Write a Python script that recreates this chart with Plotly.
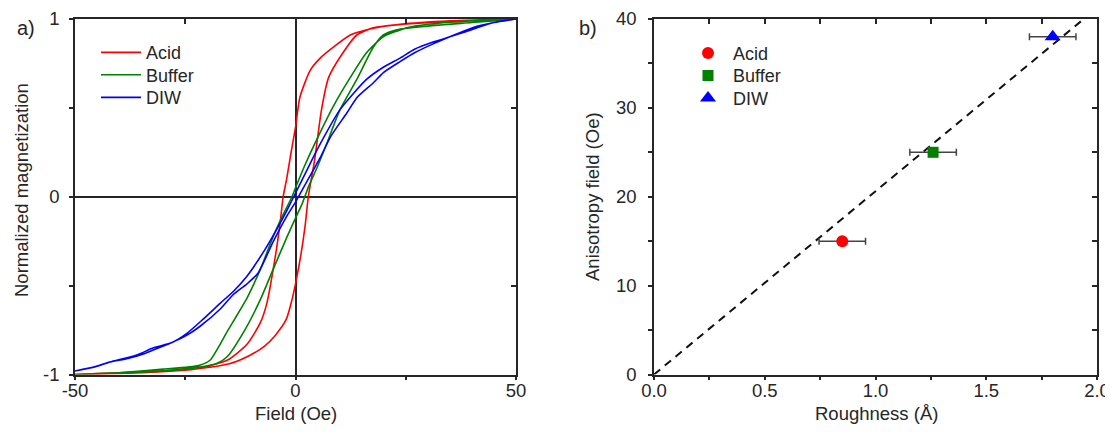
import plotly.graph_objects as go

# ---------------- Panel a) hysteresis loops ----------------
# lower (ascending) branch, then upper (descending) branch
acid_lower_h = [-50, -40, -30.7, -23, -15, -10.2, -7, -4.6, -2.1, -0.9, 0.0, 1.2, 2.2, 2.9, 4.3, 5.9, 7.5, 10.5, 13.9, 17.6, 24, 31, 40, 50]
acid_lower_m = [-1.0, -0.99, -0.98, -0.97, -0.94, -0.89, -0.84, -0.78, -0.69, -0.59, -0.49, -0.33, -0.16, 0.0, 0.20, 0.49, 0.67, 0.80, 0.91, 0.95, 0.97, 0.98, 0.99, 1.0]
acid_upper_h = [50, 35, 23.7, 16.2, 12.4, 8.5, 5.6, 3.3, 1.0, 0.0, -1.0, -2.0, -2.8, -3.5, -4.6, -6.5, -8.0, -11, -15.5, -23, -35, -50]
acid_upper_m = [1.0, 0.99, 0.97, 0.94, 0.91, 0.84, 0.78, 0.71, 0.56, 0.39, 0.25, 0.10, 0.0, -0.15, -0.34, -0.60, -0.71, -0.83, -0.92, -0.97, -0.99, -1.0]

buffer_lower_h = [-50, -40, -30, -22, -18, -15.5, -11.5, -8, -5.1, -2, 0, 1.5, 3, 5, 7.1, 10.1, 13.9, 17.6, 19.9, 23, 30, 40, 50]
buffer_lower_m = [-1.0, -0.99, -0.98, -0.96, -0.94, -0.90, -0.75, -0.58, -0.41, -0.23, -0.12, -0.04, 0.06, 0.17, 0.30, 0.49, 0.66, 0.84, 0.91, 0.94, 0.96, 0.98, 1.0]
buffer_upper_h = [50, 40, 30, 25.2, 19.9, 16.1, 12.4, 8.6, 4.4, 2, 0, -0.8, -3, -5, -8, -11, -15.3, -19.4, -22, -30, -40, -50]
buffer_upper_m = [1.0, 0.99, 0.97, 0.95, 0.90, 0.81, 0.67, 0.51, 0.30, 0.17, 0.05, 0.0, -0.11, -0.22, -0.41, -0.57, -0.75, -0.92, -0.95, -0.97, -0.99, -1.0]

diw_lower_h = [-50, -46, -42, -38, -34, -31, -28, -24.7, -21.7, -17, -14.1, -11, -8.5, -5, -2, 0, 2, 5.6, 8, 11.6, 14, 17.6, 20, 23.7, 27, 31.2, 35, 40, 45, 50]
diw_lower_m = [-0.98, -0.96, -0.93, -0.91, -0.88, -0.85, -0.82, -0.78, -0.73, -0.63, -0.55, -0.49, -0.43, -0.25, -0.11, -0.03, 0.06, 0.22, 0.34, 0.47, 0.56, 0.64, 0.70, 0.76, 0.81, 0.86, 0.90, 0.95, 0.98, 1.0]
diw_upper_h = [50, 45, 38.8, 35, 31.2, 27, 23.7, 20, 16.1, 10.1, 4.8, 2, 0, -2, -3.5, -7, -11.1, -14, -17.1, -21, -24.7, -28, -32.2, -36, -42.1, -46, -50]
diw_upper_m = [1.0, 0.98, 0.93, 0.90, 0.87, 0.83, 0.78, 0.73, 0.66, 0.49, 0.26, 0.12, 0.02, -0.08, -0.15, -0.30, -0.45, -0.53, -0.60, -0.69, -0.77, -0.82, -0.85, -0.89, -0.93, -0.96, -0.98]

# ---------------- Panel b) anisotropy vs roughness ----------------
samples = ["Acid", "Buffer", "DIW"]
roughness = [0.85, 1.26, 1.80]
roughness_err = [0.105, 0.105, 0.105]
aniso_field = [15, 25, 38]
fit_x = [0.0, 1.94]
fit_y = [0.0, 40.0]

field_ticks = [-50, -25, 0, 25, 50]
field_labels = ["-50", "", "0", "", "50"]
mag_ticks = [-1, -0.5, 0, 0.5, 1]
mag_labels = ["-1", "", "0", "", "1"]
rough_ticks = [0, 0.25, 0.5, 0.75, 1.0, 1.25, 1.5, 1.75, 2.0]
rough_labels = ["0.0", "", "0.5", "", "1.0", "", "1.5", "", "2.0"]
aniso_ticks = [0, 5, 10, 15, 20, 25, 30, 35, 40]
aniso_labels = ["0", "", "10", "", "20", "", "30", "", "40"]

colors = {"Acid": "#ff0000", "Buffer": "#008000", "DIW": "#0000ff"}
symbols = {"Acid": "circle", "Buffer": "square", "DIW": "triangle-up"}
msizes = {"Acid": 12, "Buffer": 11, "DIW": 14}

FONT = "Liberation Sans, Arial, sans-serif"
TXT = "#262626"
AX = "#262626"

# page body has an 8px margin: work in screen pixels and convert
W, H = 1105, 428
OFF = 8


def px(x):
    return (x - OFF) / W


def py(y):
    return 1 - (y - OFF) / H


fig = go.Figure()

loops = {
    "Acid": (acid_lower_h + acid_upper_h, acid_lower_m + acid_upper_m),
    "Buffer": (buffer_lower_h + buffer_upper_h, buffer_lower_m + buffer_upper_m),
    "DIW": (diw_lower_h + diw_upper_h, diw_lower_m + diw_upper_m),
}
left_legends = {"Acid": "legend", "Buffer": "legend3", "DIW": "legend4"}
right_legends = {"Acid": "legend2", "Buffer": "legend5", "DIW": "legend6"}

for name, (hx, my) in loops.items():
    fig.add_trace(go.Scatter(
        x=hx, y=my, mode="lines", name=name,
        line=dict(color=colors[name], width=1.6, shape="spline", smoothing=0.6),
        xaxis="x", yaxis="y", legend=left_legends[name], cliponaxis=True,
    ))

fig.add_trace(go.Scatter(
    x=fit_x, y=fit_y, mode="lines", showlegend=False,
    line=dict(color="#111111", width=2, dash="8px,6px"),
    xaxis="x2", yaxis="y2",
))
for i, name in enumerate(samples):
    fig.add_trace(go.Scatter(
        x=[roughness[i]], y=[aniso_field[i]], mode="markers", name=name,
        marker=dict(color=colors[name], symbol=symbols[name], size=msizes[name]),
        error_x=dict(type="data", array=[roughness_err[i]], color="#444444", thickness=1.5, width=3.5),
        xaxis="x2", yaxis="y2", legend=right_legends[name], cliponaxis=False,
    ))

# dummy traces to create mirror axes with inside ticks
fig.add_trace(go.Scatter(x=[None], y=[None], xaxis="x3", yaxis="y3", showlegend=False, hoverinfo="skip"))
fig.add_trace(go.Scatter(x=[None], y=[None], xaxis="x4", yaxis="y4", showlegend=False, hoverinfo="skip"))

dom_a = [px(75), px(516)]
dom_b = [px(654), px(1097)]
dom_y = [py(374.5), py(19)]

tickfont = dict(family=FONT, size=18.5, color=TXT)
common = dict(showgrid=False, showline=True, linecolor=AX, linewidth=1.5, mirror=True,
              ticks="outside", ticklen=4, tickwidth=1.5, tickcolor=AX, tickfont=tickfont,
              automargin=False)
inner = dict(showgrid=False, showline=False, zeroline=False, ticks="inside", ticklen=5,
             tickwidth=1.5, tickcolor=AX, showticklabels=False, automargin=False)

leg_common = dict(xanchor="left", yanchor="middle", bgcolor="rgba(0,0,0,0)",
                  font=dict(family=FONT, size=18, color=TXT), itemwidth=40,
                  borderwidth=0)

fig.update_layout(
    width=W, height=H,
    margin=dict(l=0, r=0, t=0, b=0),
    paper_bgcolor="white", plot_bgcolor="white",
    font=dict(family=FONT, size=18, color=TXT),
    xaxis=dict(domain=dom_a, anchor="y", range=[-50, 50],
               tickvals=field_ticks, ticktext=field_labels,
               zeroline=True, zerolinecolor=AX, zerolinewidth=1.5, **common),
    yaxis=dict(domain=dom_y, anchor="x", range=[-1, 1],
               tickvals=mag_ticks, ticktext=mag_labels,
               zeroline=True, zerolinecolor=AX, zerolinewidth=1.5, ticklabelstandoff=6, **common),
    xaxis2=dict(domain=dom_b, anchor="y2", range=[0, 2],
                tickvals=rough_ticks, ticktext=rough_labels,
                zeroline=False, **common),
    yaxis2=dict(domain=dom_y, anchor="x2", range=[0, 40],
                tickvals=aniso_ticks, ticktext=aniso_labels,
                zeroline=False, ticklabelstandoff=8, **common),
    xaxis3=dict(overlaying="x", side="top", anchor="y3", range=[-50, 50],
                tickvals=field_ticks, **inner),
    yaxis3=dict(overlaying="y", side="right", anchor="x3", range=[-1, 1],
                tickvals=mag_ticks, **inner),
    xaxis4=dict(overlaying="x2", side="top", anchor="y4", range=[0, 2],
                tickvals=rough_ticks, **inner),
    yaxis4=dict(overlaying="y2", side="right", anchor="x4", range=[0, 40],
                tickvals=aniso_ticks, **inner),
    legend=dict(x=px(96), y=py(52.7), **leg_common),
    legend3=dict(x=px(96), y=py(75.0), **leg_common),
    legend4=dict(x=px(96), y=py(97.7), **leg_common),
    legend2=dict(x=px(683), y=py(53.3), **leg_common),
    legend5=dict(x=px(683), y=py(75.7), **leg_common),
    legend6=dict(x=px(683), y=py(98.3), **leg_common),
    showlegend=True,
    annotations=[
        dict(text="a)", x=px(15), y=py(28), xref="paper", yref="paper",
             xanchor="left", yanchor="middle", showarrow=False, font=dict(size=20, color=TXT)),
        dict(text="b)", x=px(577), y=py(28), xref="paper", yref="paper",
             xanchor="left", yanchor="middle", showarrow=False, font=dict(size=20, color=TXT)),
        dict(text="Normalized magnetization", x=px(21), y=py(190), xref="paper", yref="paper",
             xanchor="center", yanchor="middle", textangle=-90, showarrow=False, font=dict(size=18.5, color=TXT)),
        dict(text="Field (Oe)", x=px(296), y=py(413), xref="paper", yref="paper",
             xanchor="center", yanchor="middle", showarrow=False, font=dict(size=18.5, color=TXT)),
        dict(text="Anisotropy field (Oe)", x=px(592), y=py(197), xref="paper", yref="paper",
             xanchor="center", yanchor="middle", textangle=-90, showarrow=False, font=dict(size=18.5, color=TXT)),
        dict(text="Roughness (Å)", x=px(876), y=py(413), xref="paper", yref="paper",
             xanchor="center", yanchor="middle", showarrow=False, font=dict(size=18.5, color=TXT)),
    ],
)

# pull x tick labels closer to the axis if supported
for ax in ("xaxis", "xaxis2"):
    try:
        fig.layout[ax].ticklabelstandoff = -5
    except ValueError:
        fig.layout[ax].ticklabelstandoff = 0

fig.write_html("out.html")
